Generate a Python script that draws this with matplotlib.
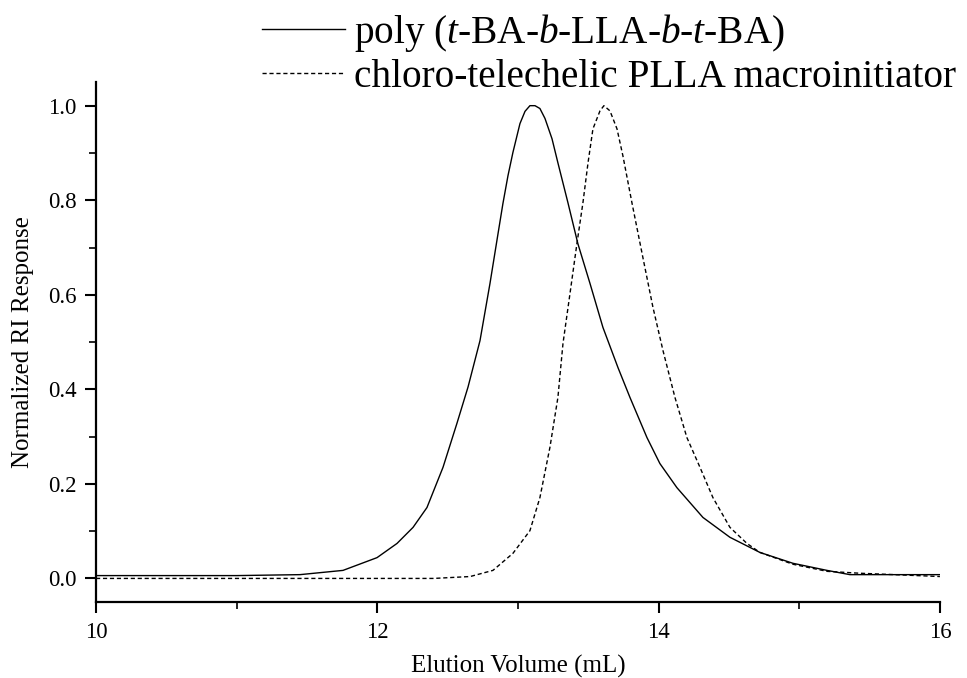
import numpy as np
import matplotlib
matplotlib.use("Agg")
import matplotlib.pyplot as plt
from matplotlib.ticker import MultipleLocator, FormatStrFormatter

plt.rcParams['font.family'] = 'Liberation Serif'
plt.rcParams['mathtext.fontset'] = 'custom'
plt.rcParams['mathtext.rm'] = 'Liberation Serif'
plt.rcParams['mathtext.it'] = 'Liberation Serif:italic'

# copolymer trace (solid)
block_x = [10.0, 11.0, 11.45, 11.756, 11.998, 12.14, 12.254, 12.353, 12.467, 12.566,
           12.645, 12.73, 12.801, 12.858, 12.893, 12.929, 12.964, 13.014, 13.05,
           13.085, 13.121, 13.156, 13.192, 13.242, 13.284, 13.355, 13.426, 13.512,
           13.604, 13.711, 13.796, 13.917, 14.009, 14.13, 14.315, 14.507, 14.72,
           14.955, 15.197, 15.36, 16.0]
block_y = [0.006, 0.006, 0.008, 0.017, 0.044, 0.074, 0.108, 0.150, 0.235, 0.328,
           0.405, 0.503, 0.624, 0.729, 0.793, 0.852, 0.901, 0.962, 0.988,
           1.0, 1.0, 0.994, 0.973, 0.930, 0.879, 0.795, 0.708, 0.624,
           0.531, 0.446, 0.383, 0.298, 0.243, 0.192, 0.129, 0.087, 0.055,
           0.032, 0.017, 0.008, 0.008]

# macroinitiator trace (dashed)
macro_x = [10.0, 12.4, 12.66, 12.822, 12.964, 13.085, 13.156, 13.227, 13.284, 13.32,
           13.37, 13.419, 13.462, 13.498, 13.533, 13.583, 13.611, 13.654, 13.704,
           13.746, 13.81, 13.888, 13.96, 14.031, 14.116, 14.201, 14.294, 14.386,
           14.507, 14.628, 14.72, 14.955, 15.197, 15.43, 16.0]
macro_y = [0.0, 0.0, 0.004, 0.017, 0.053, 0.101, 0.171, 0.277, 0.383, 0.497,
           0.603, 0.708, 0.795, 0.879, 0.951, 0.989, 1.0, 0.989, 0.951,
           0.894, 0.795, 0.679, 0.573, 0.482, 0.383, 0.298, 0.235, 0.171,
           0.108, 0.074, 0.055, 0.030, 0.015, 0.011, 0.004]

labels = [r'poly ($\mathit{t}$-BA-$\mathit{b}$-LLA-$\mathit{b}$-$\mathit{t}$-BA)',
          'chloro-telechelic PLLA macroinitiator']

fig = plt.figure(figsize=(9.67, 6.78), dpi=100)
ax = fig.add_axes([0.0993, 0.112, 0.8727, 0.767])

ax.plot(block_x, block_y, color='black', lw=1.0, label=labels[0])
ax.plot(macro_x, macro_y, color='black', lw=1.0, linestyle=(0, (3, 2)), label=labels[1])

ax.set_xlim(10, 16)
ax.set_ylim(-0.05, 1.05)
ax.xaxis.set_major_locator(MultipleLocator(2))
ax.xaxis.set_minor_locator(MultipleLocator(1))
ax.yaxis.set_major_locator(MultipleLocator(0.2))
ax.yaxis.set_minor_locator(MultipleLocator(0.1))
ax.yaxis.set_major_formatter(FormatStrFormatter('%.1f'))

for s in ['top', 'right']:
    ax.spines[s].set_visible(False)
for s in ['left', 'bottom']:
    ax.spines[s].set_linewidth(1.6)

ax.tick_params(which='major', direction='out', length=8, width=1.5, labelsize=16.5, pad=6)
ax.tick_params(which='minor', direction='out', length=5, width=1.2)

ax.set_xlabel('Elution Volume (mL)', fontsize=18, labelpad=9)
ax.set_ylabel('Normalized RI Response', fontsize=18, labelpad=10)

ax.legend(loc='upper left', bbox_to_anchor=(262 / 967, 1 - 12 / 678),
          bbox_transform=fig.transFigure, frameon=False, fontsize=28.3,
          handlelength=2.1, handletextpad=0.25, labelspacing=0.12, borderpad=0,
          borderaxespad=0)

fig.savefig('out.png', dpi=100)
